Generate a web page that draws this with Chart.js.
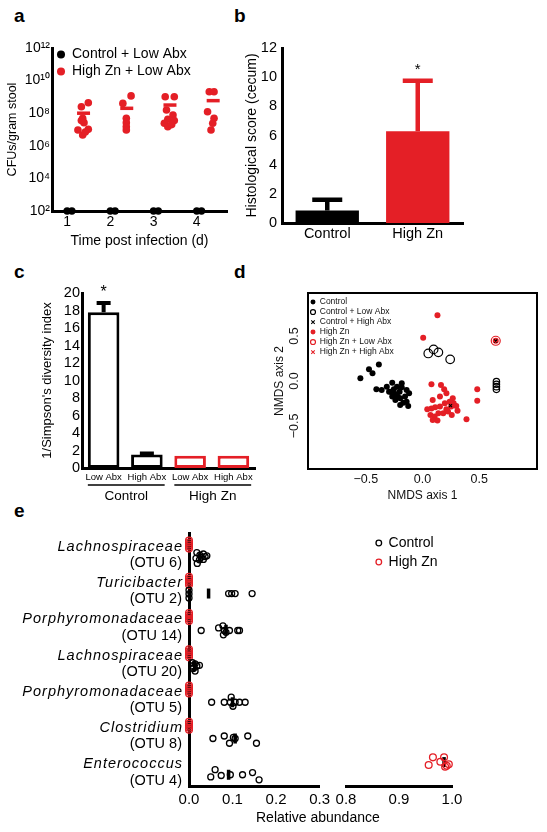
<!DOCTYPE html>
<html>
<head>
<meta charset="utf-8">
<title>High zinc figure</title>
<script src="https://cdn.jsdelivr.net/npm/chart.js@4.4.1/dist/chart.umd.min.js"></script>
<style>
  body { margin: 0; background: #fff; font-family: "Liberation Sans", Arial, sans-serif; }
  #page { position: relative; width: 547px; height: 832px; overflow: hidden; background: #fff; }
  canvas { position: absolute; }
  .tag { position: absolute; font-weight: bold; font-size: 19px; line-height: 19px; }
  .axt { position: absolute; font-size: 14px; line-height: 14px; white-space: nowrap; }
</style>
</head>
<body>
<div id="page">
  <div class="tag" style="left:14px;top:6px">a</div>
  <div class="tag" style="left:234px;top:6px">b</div>
  <div class="tag" style="left:14px;top:262px">c</div>
  <div class="tag" style="left:234px;top:262px">d</div>
  <div class="tag" style="left:14px;top:501px">e</div>

  <canvas id="panelA" width="237" height="255" style="left:0;top:0"></canvas>
  <canvas id="panelB" width="240" height="255" style="left:237px;top:0"></canvas>
  <canvas id="panelC" width="232" height="250" style="left:30px;top:255px"></canvas>
  <canvas id="panelD" width="277" height="250" style="left:270px;top:255px"></canvas>
  <canvas id="panelE1" width="335" height="327" style="left:0;top:505px"></canvas>
  <canvas id="panelE2" width="140" height="327" style="left:330px;top:505px"></canvas>

  <div class="axt" style="left:256px;top:810px">Relative abundance</div>
</div>

<script>
const RED = '#e41f26';
const BLACK = '#000';
const FONT = '"Liberation Sans", Arial, Helvetica, sans-serif';

Chart.defaults.font.family = FONT;
Chart.defaults.color = BLACK;
Chart.defaults.animation = false;
Chart.defaults.responsive = false;
Chart.defaults.plugins.legend.display = false;
Chart.defaults.plugins.tooltip.enabled = false;

// ---------- panel a: CFUs per gram stool ----------
const days = [1, 2, 3, 4];
// log10 CFU/g, High Zn + Low Abx, one row per day
const zincLogCfu = [
  [8.64, 8.4, 7.69, 7.42, 7.55, 6.97, 6.66, 7.01, 6.85],
  [9.06, 8.6, 7.69, 7.42, 7.17, 6.97],
  [9.01, 9.01, 8.2, 7.89, 7.63, 7.55, 7.38, 7.17, 7.3],
  [9.32, 9.32, 8.09, 7.69, 7.38, 6.97]
];
const zincDayX = [
  [1.49, 1.33, 1.36, 1.39, 1.33, 1.25, 1.36, 1.49, 1.42],
  [2.48, 2.29, 2.37, 2.37, 2.37, 2.37],
  [3.27, 3.48, 3.3, 3.45, 3.33, 3.48, 3.25, 3.33, 3.42],
  [4.29, 4.4, 4.25, 4.4, 4.37, 4.33]
];
const zincMeanLog = [8.0, 8.3, 8.5, 8.77];
const ctrlDayX = [[1.0, 1.11], [2.0, 2.11], [3.0, 3.11], [4.0, 4.11]];
const ctrlCfu = 1e2; // below detection, sits on the axis

// ---------- panel b: histological score ----------
const histGroups = ['Control', 'High Zn'];
const histScore = [0.85, 6.3];
const histSem = [0.75, 3.45];
const histStar = [null, 10.5];

// ---------- panel c: 1/Simpson ----------
const divTreat = ['Low Abx', 'High Abx', 'Low Abx', 'High Abx'];
const divDiet = [['Control', 0, 1], ['High Zn', 2, 3]];
const invSimpson = [17.8, 1.55, 1.4, 1.4];
const invSimpsonSem = [1.05, 0.1, 0, 0];
const divStar = [20.0, null, null, null];

// ---------- panel d: NMDS ----------
const nmdsControl = [
  [-0.548, 0.03], [-0.472, 0.13], [-0.441, 0.085], [-0.385, 0.185], [-0.407, -0.093],
  [-0.36, -0.1], [-0.315, -0.063], [-0.281, -0.119], [-0.267, -0.019], [-0.253, -0.093],
  [-0.239, -0.144], [-0.225, -0.063], [-0.219, -0.174], [-0.202, -0.119], [-0.197, -0.193],
  [-0.183, -0.026], [-0.183, -0.07], [-0.169, -0.241], [-0.154, -0.174], [-0.14, -0.1],
  [-0.14, -0.23], [-0.126, -0.278], [-0.118, -0.137], [-0.197, -0.267], [-0.267, -0.174],
  [-0.295, -0.119], [-0.239, -0.211]
];
const nmdsControlLowAbx = [
  [0.051, 0.307], [0.098, 0.352], [0.14, 0.319], [0.244, 0.241],
  [0.652, -0.007], [0.652, -0.037], [0.652, -0.063], [0.652, -0.093]
];
const nmdsControlHighAbx = [[0.247, -0.274], [0.646, 0.445]];
const nmdsZinc = [
  [0.132, 0.733], [0.006, 0.481], [0.646, 0.448], [0.079, -0.037], [0.163, -0.044],
  [0.191, -0.093], [0.211, -0.137], [0.09, -0.211], [0.267, -0.193], [0.275, -0.248],
  [0.253, -0.285], [0.298, -0.278], [0.197, -0.248], [0.154, -0.285], [0.112, -0.293],
  [0.079, -0.307], [0.042, -0.315], [0.07, -0.378], [0.107, -0.396], [0.132, -0.441],
  [0.09, -0.433], [0.14, -0.359], [0.183, -0.359], [0.225, -0.341], [0.258, -0.378],
  [0.309, -0.33], [0.388, -0.426], [0.483, -0.093], [0.483, -0.219], [0.154, -0.174],
  [0.239, -0.23], [0.211, -0.315]
];
const nmdsZincLowAbx = [[0.646, 0.448]];
const nmdsZincHighAbx = [[0.646, 0.448]];

// ---------- panel e: relative abundance per OTU ----------
const otuNames = ['Lachnospiraceae', 'Turicibacter', 'Porphyromonadaceae', 'Lachnospiraceae',
  'Porphyromonadaceae', 'Clostridium', 'Enterococcus'];
const otuIds = ['(OTU 6)', '(OTU 2)', '(OTU 14)', '(OTU 20)', '(OTU 5)', '(OTU 8)', '(OTU 4)'];
const ctrlAbund = [
  [0.018, 0.025, 0.033, 0.037, 0.016, 0.024, 0.033, 0.019, 0.041, 0.028],
  [0, 0, 0, 0.091, 0.098, 0.106, 0.145],
  [0.028, 0.068, 0.078, 0.081, 0.079, 0.085, 0.093, 0.112, 0.116],
  [0.008, 0.014, 0.018, 0.024, 0.01, 0.014, 0.006],
  [0.052, 0.081, 0.097, 0.095, 0.101, 0.106, 0.116, 0.129],
  [0.055, 0.081, 0.093, 0.106, 0.135, 0.155, 0.102],
  [0.06, 0.05, 0.074, 0.095, 0.123, 0.146, 0.161]
];
const ctrlSpread = [
  [-0.13, -0.06, -0.09, -0.02, 0.03, 0.07, 0.06, 0.17, -0.04, 0],
  [-0.09, 0.01, 0.12, 0, 0, 0, 0],
  [0.02, -0.05, -0.11, 0.02, 0.14, 0.07, 0.02, 0.02, 0.02],
  [-0.09, -0.06, 0, -0.02, 0.07, 0.14, 0],
  [0, 0, -0.14, 0, 0.11, 0, 0, 0],
  [0, -0.07, 0.13, 0, -0.07, 0.13, -0.03],
  [-0.14, 0.06, 0.02, 0, 0, -0.06, 0.14]
];
const ctrlMean = [0.025, 0.045, 0.085, 0.013, 0.1, 0.106, 0.091];
const zincAbund = [
  [0, 0, 0, 0, 0], [0, 0, 0, 0, 0], [0, 0, 0, 0, 0], [0, 0, 0, 0, 0],
  [0, 0, 0, 0, 0], [0, 0, 0, 0, 0],
  [0.956, 0.964, 0.978, 0.985, 0.99, 0.994, 0.987]
];
const zincSpread = [
  [-0.11, -0.055, 0, 0.055, 0.11], [-0.11, -0.055, 0, 0.055, 0.11],
  [-0.11, -0.055, 0, 0.055, 0.11], [-0.11, -0.055, 0, 0.055, 0.11],
  [-0.11, -0.055, 0, 0.055, 0.11], [-0.11, -0.055, 0, 0.055, 0.11],
  [0.08, -0.13, -0.01, -0.13, 0.1, 0.06, 0.13]
];
const zincMean = [0, 0, 0, 0, 0, 0, 0.985];
const ZN_ROW = -0.16, CTRL_ROW = 0.19;   // sub-row of each OTU

// ---------- helpers ----------
function fixSize(px) {
  return (s) => { if (s.isHorizontal()) s.height = px; else s.width = px; };
}
function keepTicks(vals) {
  return (s) => { s.ticks = vals.map((v) => ({ value: v })); };
}
const hideGrid = { display: false, drawTicks: false };
const axisLine = { color: BLACK, width: 3 };
const SUP = { 0: '\u2070', 1: '\u00b9', 2: '\u00b2', 3: '\u00b3', 4: '\u2074',
  5: '\u2075', 6: '\u2076', 7: '\u2077', 8: '\u2078', 9: '\u2079' };
function pow10Label(v) {
  const p = String(Math.round(Math.log10(v)));
  return '10' + p.split('').map((c) => SUP[c]).join('');
}
function signed(v) {
  return (v < 0 ? '\u2212' : '') + Math.abs(v).toFixed(1);
}
function toXY(pairs) { return pairs.map((p) => ({ x: p[0], y: p[1] })); }
const el = (id) => document.getElementById(id);

// move a 'chartArea' legend to a fixed spot
const placeLegend = {
  id: 'placeLegend',
  afterLayout(chart, args, opts) {
    const lg = chart.legend;
    if (!lg || !opts || opts.x == null) return;
    lg.left = opts.x; lg.right = opts.x + 400;
    lg.top = opts.y; lg.bottom = opts.y + 400;
  }
};

// upward error bars + significance stars for bar charts
const errorBars = {
  id: 'errorBars',
  afterDatasetsDraw(chart, args, opts) {
    const { ctx, scales: { x, y } } = chart;
    ctx.save();
    opts.means.forEach((m, i) => {
      const px = x.getPixelForValue(i);
      const e = opts.errs[i];
      if (e) {
        const y0 = y.getPixelForValue(m), y1 = y.getPixelForValue(m + e);
        ctx.strokeStyle = opts.colors[i];
        ctx.lineWidth = opts.width;
        ctx.beginPath();
        ctx.moveTo(px, y0); ctx.lineTo(px, y1);
        ctx.moveTo(px - opts.cap / 2, y1); ctx.lineTo(px + opts.cap / 2, y1);
        ctx.stroke();
      }
      if (opts.stars && opts.stars[i] != null) {
        ctx.fillStyle = BLACK;
        ctx.font = opts.starSize + 'px ' + FONT;
        ctx.textAlign = 'center';
        ctx.textBaseline = 'middle';
        ctx.fillText('*', px, y.getPixelForValue(opts.stars[i]));
      }
    });
    ctx.restore();
  }
};

// "Control" / "High Zn" brackets under panel c
const groupLabels = {
  id: 'groupLabels',
  afterDraw(chart, args, opts) {
    const { ctx, chartArea } = chart;
    const bars = chart.getDatasetMeta(0).data;
    ctx.save();
    ctx.strokeStyle = BLACK; ctx.fillStyle = BLACK; ctx.lineWidth = 1.5;
    ctx.font = '13.5px ' + FONT;
    ctx.textAlign = 'center'; ctx.textBaseline = 'middle';
    opts.groups.forEach(([name, a, b]) => {
      const l = bars[a].x - bars[a].width / 2;
      const r = bars[b].x + bars[b].width / 2 + 2;
      const yy = chartArea.bottom + opts.lineGap;
      ctx.beginPath(); ctx.moveTo(l, yy); ctx.lineTo(r, yy); ctx.stroke();
      ctx.fillText(name, (l + r) / 2, yy + opts.textGap);
    });
    ctx.restore();
  }
};

// box around the NMDS plot
const frame = {
  id: 'frame',
  afterDraw(chart) {
    const { ctx, chartArea: a } = chart;
    ctx.save();
    ctx.strokeStyle = BLACK; ctx.lineWidth = 2;
    ctx.strokeRect(a.left, a.top, a.right - a.left, a.bottom - a.top);
    ctx.restore();
  }
};

// OTU names (italic) and ids left of panel e
const rowLabels = {
  id: 'rowLabels',
  afterDraw(chart, args, opts) {
    const { ctx, scales: { y }, chartArea } = chart;
    const x = chartArea.left - 7;
    ctx.save();
    ctx.fillStyle = BLACK; ctx.textAlign = 'right'; ctx.textBaseline = 'middle';
    opts.names.forEach((name, i) => {
      ctx.font = 'italic 14.5px ' + FONT;
      ctx.letterSpacing = '1px';
      ctx.fillText(name, x + 1, y.getPixelForValue(i + opts.nameRow));
      ctx.font = '14.5px ' + FONT;
      ctx.letterSpacing = '0px';
      ctx.fillText(opts.ids[i], x, y.getPixelForValue(i + opts.idRow));
    });
    ctx.restore();
  }
};

// ---------- panel a ----------
const zincPointsA = [];
zincLogCfu.forEach((row, i) => row.forEach((v, j) => zincPointsA.push({ x: zincDayX[i][j], y: Math.pow(10, v) })));
const zincMeansA = zincMeanLog.map((v, i) => ({ x: days[i] + 0.38, y: Math.pow(10, v) }));
const ctrlPointsA = [];
ctrlDayX.forEach((xs) => xs.forEach((x) => ctrlPointsA.push({ x: x, y: ctrlCfu })));

new Chart(el('panelA'), {
  type: 'scatter',
  data: {
    datasets: [
      { label: 'Control + Low Abx', data: ctrlPointsA, backgroundColor: BLACK, borderColor: BLACK,
        borderWidth: 0, pointRadius: 3.7, clip: false },
      { label: 'High Zn + Low Abx', data: zincPointsA, backgroundColor: RED, borderColor: RED,
        borderWidth: 0, pointRadius: 3.8 },
      { label: 'mean', data: zincMeansA, pointStyle: 'line', rotation: 0, pointRadius: 6.5,
        borderColor: RED, borderWidth: 3.5 }
    ]
  },
  options: {
    layout: { padding: { top: 48, right: 9, left: 0, bottom: 0 } },
    scales: {
      x: {
        type: 'linear', min: 0.65, max: 4.7,
        afterBuildTicks: keepTicks(days), afterFit: fixSize(44),
        grid: hideGrid, border: axisLine,
        ticks: { font: { size: 14 }, padding: 3, callback: (v) => v },
        title: { display: true, text: 'Time post infection (d)', font: { size: 14 }, padding: { top: 0, bottom: 5 } }
      },
      y: {
        type: 'logarithmic', min: 1e2, max: 1e12,
        afterBuildTicks: keepTicks([1e2, 1e4, 1e6, 1e8, 1e10, 1e12]), afterFit: fixSize(52),
        grid: hideGrid, border: axisLine,
        ticks: { font: { size: 14 }, padding: 2, autoSkip: false, callback: pow10Label },
        title: { display: true, text: 'CFUs/gram stool', font: { size: 12.5 }, padding: { top: 5.5, bottom: 0 } }
      }
    },
    plugins: {
      legend: {
        display: true, position: 'chartArea', align: 'start',
        labels: { color: BLACK, font: { size: 14 }, usePointStyle: true, boxHeight: 5.6, pointStyleWidth: 8,
          padding: 3, filter: (item) => item.datasetIndex < 2 }
      },
      placeLegend: { x: 54, y: 44.5 }
    }
  },
  plugins: [placeLegend]
});

// ---------- panel b ----------
new Chart(el('panelB'), {
  type: 'bar',
  data: {
    labels: histGroups,
    datasets: [{ data: histScore, backgroundColor: [BLACK, RED], borderWidth: 0,
      barPercentage: 0.7, categoryPercentage: 1 }]
  },
  options: {
    layout: { padding: { top: 48, right: 14, left: 0, bottom: 0 } },
    scales: {
      x: { grid: hideGrid, border: axisLine, afterFit: fixSize(32),
        ticks: { font: { size: 14.5 }, padding: 2.5 } },
      y: { min: 0, max: 12, grid: hideGrid, border: axisLine, afterFit: fixSize(45),
        ticks: { stepSize: 2, font: { size: 14.5 }, padding: 5, autoSkip: false },
        title: { display: true, text: 'Histological score (cecum)', font: { size: 14 }, padding: { top: 6.6, bottom: 0 } } }
    },
    plugins: {
      errorBars: { means: histScore, errs: histSem, stars: histStar, colors: [BLACK, RED],
        width: 4.5, cap: 30, starSize: 15 }
    }
  },
  plugins: [errorBars]
});

// ---------- panel c ----------
new Chart(el('panelC'), {
  type: 'bar',
  data: {
    labels: divTreat,
    datasets: [{ data: invSimpson, backgroundColor: '#fff', borderColor: [BLACK, BLACK, RED, RED],
      borderWidth: 3, borderSkipped: false, barPercentage: 0.73, categoryPercentage: 1 }]
  },
  options: {
    layout: { padding: { top: 38, right: 7, left: 0, bottom: 0 } },
    scales: {
      x: { grid: hideGrid, border: axisLine, afterFit: fixSize(37),
        ticks: { font: { size: 9.5 }, padding: 4, autoSkip: false, maxRotation: 0 } },
      y: { min: 0, max: 20, grid: hideGrid, border: axisLine, afterFit: fixSize(52),
        ticks: { stepSize: 2, font: { size: 14.5 }, padding: 2, autoSkip: false },
        title: { display: true, text: "1/Simpson's diversity index", font: { size: 13 }, padding: { top: 10, bottom: 0 } } }
    },
    plugins: {
      errorBars: { means: invSimpson, errs: invSimpsonSem, stars: divStar, colors: [BLACK, BLACK, RED, RED],
        width: 4, cap: 14, starSize: 16 },
      groupLabels: { groups: divDiet, lineGap: 17, textGap: 11 }
    }
  },
  plugins: [errorBars, groupLabels]
});

// ---------- panel d ----------
const OPEN = 'rgba(0,0,0,0)';
new Chart(el('panelD'), {
  type: 'scatter',
  data: {
    datasets: [
      { label: 'Control', data: toXY(nmdsControl), backgroundColor: BLACK, borderColor: BLACK,
        borderWidth: 0, pointRadius: 3 },
      { label: 'Control + Low Abx', data: toXY(nmdsControlLowAbx), backgroundColor: OPEN, borderColor: BLACK,
        borderWidth: 1.2, pointRadius: (c) => (c.raw && c.raw.x > 0.5 ? 3.2 : 4.3) },
      { label: 'Control + High Abx', data: toXY(nmdsControlHighAbx), pointStyle: 'crossRot',
        backgroundColor: OPEN, borderColor: BLACK, borderWidth: 1.1, pointRadius: 2.2 },
      { label: 'High Zn', data: toXY(nmdsZinc), backgroundColor: RED, borderColor: RED,
        borderWidth: 0, pointRadius: 3 },
      { label: 'High Zn + Low Abx', data: toXY(nmdsZincLowAbx), backgroundColor: OPEN, borderColor: RED,
        borderWidth: 1.2, pointRadius: 4.5 },
      { label: 'High Zn + High Abx', data: toXY(nmdsZincHighAbx), pointStyle: 'crossRot',
        backgroundColor: OPEN, borderColor: RED, borderWidth: 1.1, pointRadius: 2.2 }
    ]
  },
  options: {
    layout: { padding: { top: 38, right: 10, left: 0, bottom: 0 } },
    scales: {
      x: {
        min: -1.01, max: 1.01, afterBuildTicks: keepTicks([-0.5, 0, 0.5]), afterFit: fixSize(36),
        grid: hideGrid, border: { display: false },
        ticks: { font: { size: 12.5 }, color: '#111', padding: 3.5, callback: signed },
        title: { display: true, text: 'NMDS axis 1', color: '#111', font: { size: 12 }, padding: { top: 0, bottom: 1.8 } }
      },
      y: {
        min: -0.98, max: 0.98, afterBuildTicks: keepTicks([-0.5, 0, 0.5]), afterFit: fixSize(38),
        grid: hideGrid, border: { display: false },
        ticks: { font: { size: 12.5 }, color: '#111', padding: 1, minRotation: 90, maxRotation: 90,
          crossAlign: 'center', callback: signed },
        title: { display: true, text: 'NMDS axis 2', color: '#111', font: { size: 12 }, padding: { top: 2.8, bottom: 0 } }
      }
    },
    plugins: {
      legend: {
        display: true, position: 'chartArea', align: 'start',
        labels: { color: '#111', font: { size: 8.5 }, usePointStyle: true, boxHeight: 3.5, pointStyleWidth: 5, padding: 1.5 }
      },
      placeLegend: { x: 39, y: 41.3 }
    }
  },
  plugins: [placeLegend, frame]
});

// ---------- panel e ----------
// the two halves of the broken axis share the same datasets; values outside a
// half land far off its canvas, so clipping can be switched off
function abundanceSets() {
  const ctrl = [], zinc = [], means = [];
  ctrlAbund.forEach((row, i) => row.forEach((v, j) => ctrl.push({ x: v, y: i + CTRL_ROW + ctrlSpread[i][j] })));
  zincAbund.forEach((row, i) => row.forEach((v, j) => zinc.push({ x: v, y: i + ZN_ROW + zincSpread[i][j] })));
  ctrlMean.forEach((v, i) => means.push({ x: v, y: i + CTRL_ROW }));
  zincMean.forEach((v, i) => means.push({ x: v, y: i + ZN_ROW }));
  return [
    { label: 'Control', data: ctrl, backgroundColor: OPEN, borderColor: BLACK, borderWidth: 1.3,
      pointRadius: 3, clip: false },
    { label: 'High Zn', data: zinc, backgroundColor: OPEN, borderColor: RED, borderWidth: 1.3,
      pointRadius: 3.4, clip: false },
    { label: 'mean', data: means, pointStyle: 'line', rotation: 90, pointRadius: 5, borderColor: BLACK,
      borderWidth: 3.5, clip: false }
  ];
}
const abundTicks = { font: { size: 15 }, padding: 5, callback: (v) => v.toFixed(1) };

new Chart(el('panelE1'), {
  type: 'scatter',
  data: { datasets: abundanceSets() },
  options: {
    layout: { padding: { top: 28, right: 15, left: 0, bottom: 0 } },
    scales: {
      x: { min: 0, max: 0.3, afterBuildTicks: keepTicks([0, 0.1, 0.2, 0.3]), afterFit: fixSize(46),
        grid: hideGrid, border: axisLine, ticks: abundTicks },
      y: { min: -0.48, max: 6.5, reverse: true, afterFit: fixSize(189),
        grid: hideGrid, border: axisLine, ticks: { display: false } }
    },
    plugins: {
      rowLabels: { names: otuNames, ids: otuIds, nameRow: -0.1, idRow: 0.35 }
    }
  },
  plugins: [rowLabels]
});

new Chart(el('panelE2'), {
  type: 'scatter',
  data: { datasets: abundanceSets() },
  options: {
    layout: { padding: { top: 28, right: 18, left: 16, bottom: 0 } },
    scales: {
      x: { min: 0.8, max: 1.0, afterBuildTicks: keepTicks([0.8, 0.9, 1.0]), afterFit: fixSize(46),
        grid: hideGrid, border: axisLine, ticks: abundTicks },
      y: { display: false, min: -0.48, max: 6.5, reverse: true }
    },
    plugins: {
      legend: {
        display: true, position: 'chartArea', align: 'start',
        labels: { color: BLACK, font: { size: 14 }, usePointStyle: true, boxHeight: 4, pointStyleWidth: 5.6,
          padding: 5, filter: (item) => item.datasetIndex < 2 }
      },
      placeLegend: { x: 41, y: 26 }
    }
  },
  plugins: [placeLegend]
});
</script>
</body>
</html>
